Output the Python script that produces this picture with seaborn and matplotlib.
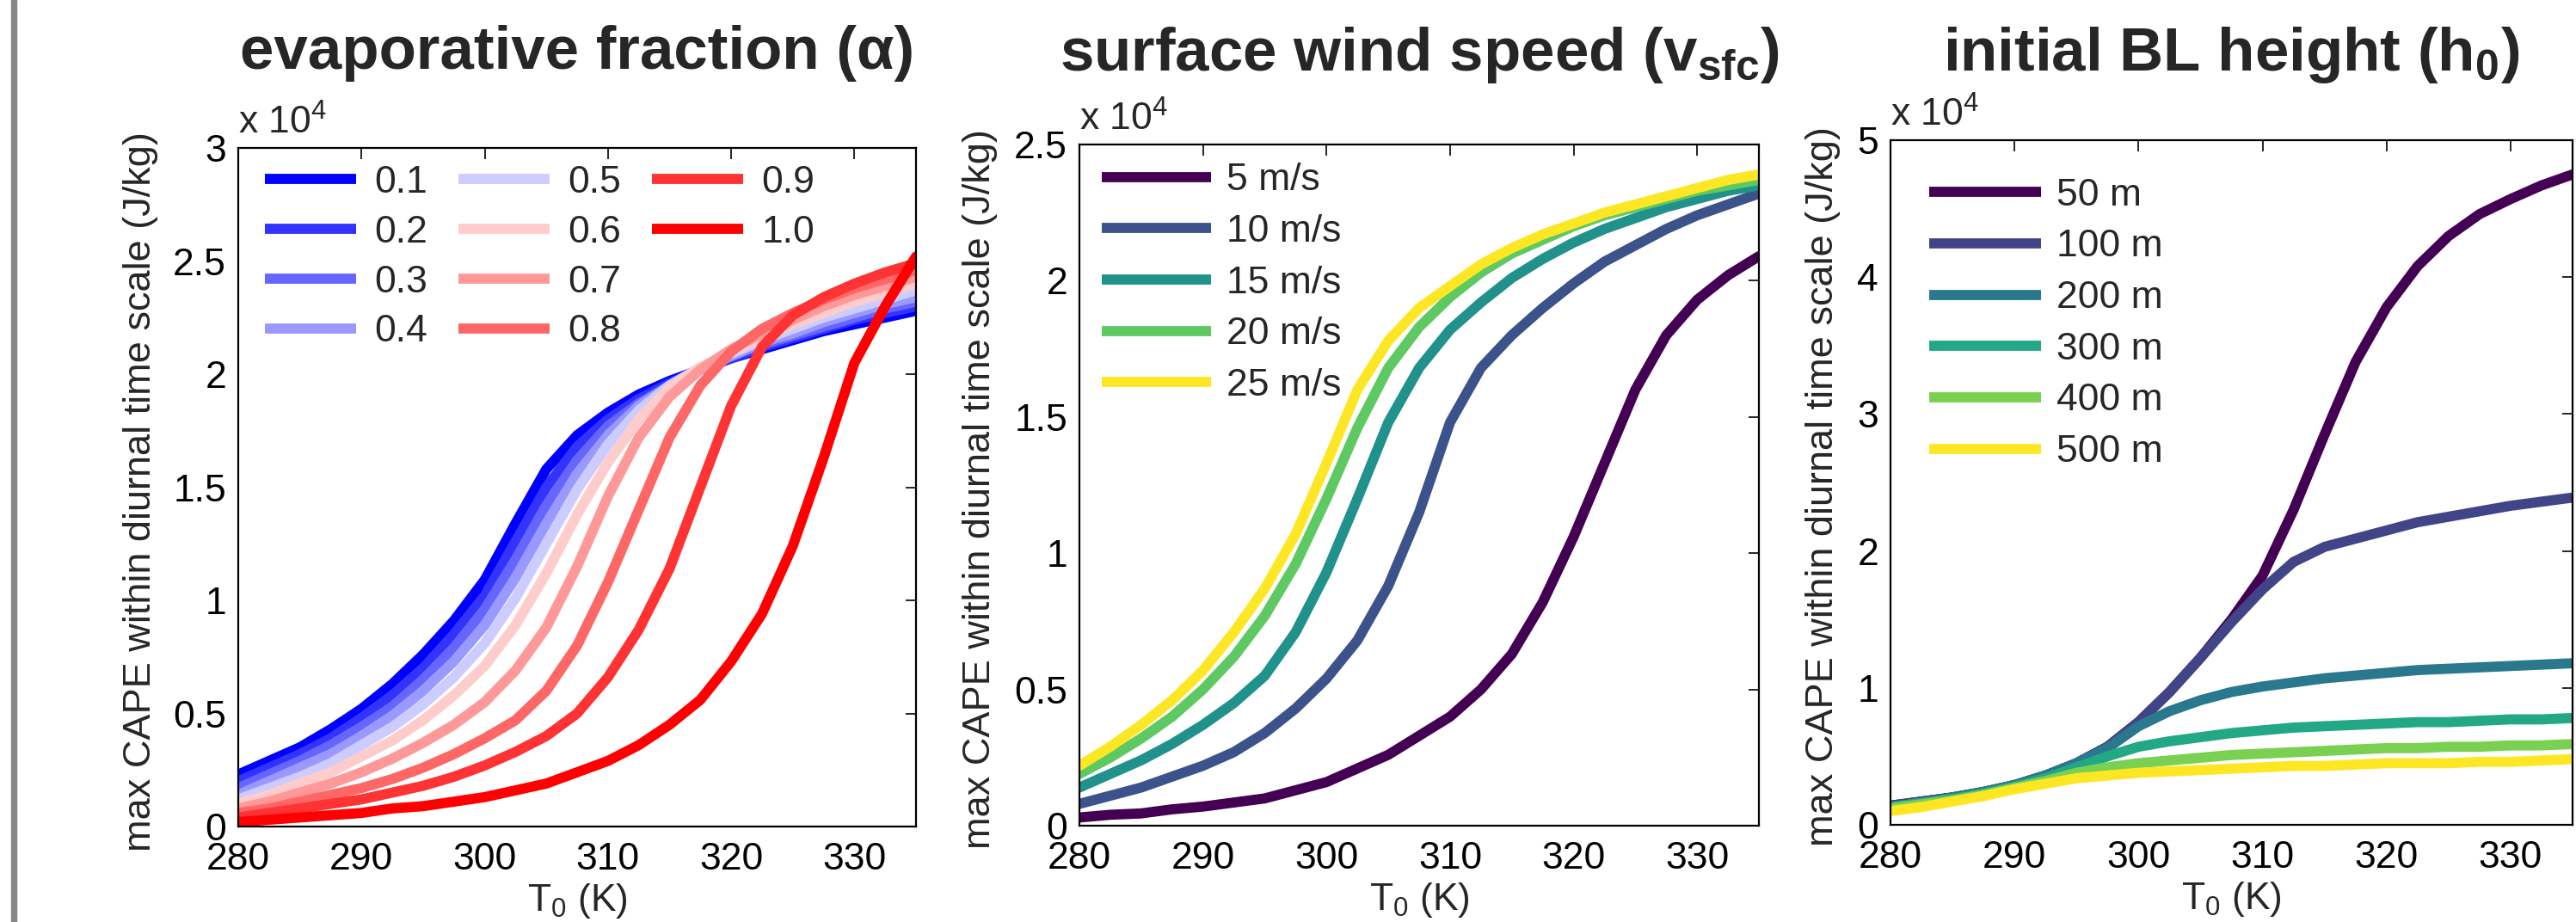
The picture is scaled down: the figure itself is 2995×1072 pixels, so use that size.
import matplotlib
matplotlib.use("Agg")
import matplotlib.pyplot as plt
import matplotlib.transforms as mtransforms
from matplotlib.lines import Line2D
from matplotlib.patches import Rectangle
from matplotlib.ticker import FuncFormatter
import pandas as pd
import seaborn as sns

# surface temperature T0 (K)
T0 = [280, 282.5, 285, 287.5, 290, 292.5, 295, 297.5, 300, 302.5, 305, 307.5,
      310, 312.5, 315, 317.5, 320, 322.5, 325, 327.5, 330, 332.5, 335]

# max CAPE within diurnal time scale, units of 1e4 J/kg
# panel 1: evaporative fraction
alpha_01 = [0.23, 0.29, 0.35, 0.43, 0.52, 0.63, 0.76, 0.91, 1.09, 1.34, 1.58, 1.73, 1.83, 1.91, 1.97, 2.02, 2.07, 2.11, 2.15, 2.19, 2.22, 2.25, 2.28]
alpha_02 = [0.20, 0.26, 0.32, 0.39, 0.48, 0.58, 0.70, 0.85, 1.02, 1.26, 1.50, 1.68, 1.80, 1.89, 1.96, 2.02, 2.07, 2.12, 2.16, 2.20, 2.24, 2.27, 2.30]
alpha_03 = [0.17, 0.23, 0.29, 0.36, 0.44, 0.53, 0.65, 0.79, 0.96, 1.18, 1.42, 1.62, 1.77, 1.87, 1.95, 2.02, 2.08, 2.13, 2.17, 2.21, 2.25, 2.29, 2.32]
alpha_04 = [0.14, 0.20, 0.26, 0.32, 0.40, 0.49, 0.60, 0.73, 0.89, 1.10, 1.34, 1.56, 1.73, 1.86, 1.95, 2.02, 2.08, 2.14, 2.18, 2.23, 2.27, 2.31, 2.34]
alpha_05 = [0.12, 0.17, 0.22, 0.28, 0.36, 0.44, 0.54, 0.66, 0.81, 1.01, 1.25, 1.49, 1.69, 1.84, 1.95, 2.03, 2.09, 2.15, 2.20, 2.25, 2.29, 2.33, 2.37]
alpha_06 = [0.10, 0.14, 0.19, 0.24, 0.31, 0.38, 0.47, 0.58, 0.71, 0.89, 1.12, 1.38, 1.61, 1.80, 1.94, 2.03, 2.10, 2.16, 2.22, 2.27, 2.32, 2.36, 2.40]
alpha_07 = [0.08, 0.11, 0.15, 0.19, 0.24, 0.30, 0.37, 0.45, 0.55, 0.69, 0.88, 1.15, 1.46, 1.72, 1.90, 2.02, 2.11, 2.18, 2.24, 2.30, 2.35, 2.39, 2.43]
alpha_08 = [0.06, 0.08, 0.11, 0.14, 0.17, 0.21, 0.26, 0.32, 0.39, 0.47, 0.60, 0.80, 1.08, 1.40, 1.72, 1.95, 2.10, 2.20, 2.27, 2.33, 2.38, 2.42, 2.46]
alpha_09 = [0.04, 0.06, 0.08, 0.10, 0.12, 0.15, 0.18, 0.22, 0.27, 0.33, 0.40, 0.50, 0.66, 0.87, 1.14, 1.50, 1.86, 2.12, 2.26, 2.34, 2.40, 2.45, 2.49]
alpha_10 = [0.02, 0.03, 0.04, 0.05, 0.06, 0.08, 0.09, 0.11, 0.13, 0.16, 0.19, 0.24, 0.29, 0.36, 0.45, 0.56, 0.73, 0.94, 1.24, 1.63, 2.05, 2.30, 2.52]
alpha_labels = ['0.1', '0.2', '0.3', '0.4', '0.5', '0.6', '0.7', '0.8', '0.9', '1.0']
alpha_colors = ['#0000ff', '#3333ff', '#6666ff', '#9999ff', '#ccccff',
                '#ffcccc', '#ff9999', '#ff6666', '#ff3333', '#ff0000']

# panel 2: surface wind speed
wind_05 = [0.03, 0.04, 0.045, 0.06, 0.07, 0.085, 0.10, 0.13, 0.16, 0.21, 0.26, 0.33, 0.40, 0.50, 0.63, 0.82, 1.06, 1.33, 1.60, 1.80, 1.93, 2.02, 2.09]
wind_10 = [0.08, 0.11, 0.14, 0.18, 0.22, 0.27, 0.34, 0.43, 0.54, 0.68, 0.88, 1.15, 1.48, 1.68, 1.80, 1.90, 1.99, 2.07, 2.13, 2.19, 2.24, 2.28, 2.32]
wind_15 = [0.14, 0.19, 0.24, 0.30, 0.37, 0.45, 0.55, 0.71, 0.93, 1.20, 1.48, 1.68, 1.82, 1.92, 2.01, 2.08, 2.14, 2.19, 2.23, 2.27, 2.30, 2.33, 2.35]
wind_20 = [0.19, 0.25, 0.32, 0.40, 0.50, 0.62, 0.77, 0.96, 1.20, 1.46, 1.68, 1.83, 1.94, 2.03, 2.10, 2.15, 2.20, 2.24, 2.27, 2.30, 2.33, 2.35, 2.37]
wind_25 = [0.22, 0.29, 0.37, 0.46, 0.57, 0.71, 0.87, 1.07, 1.33, 1.60, 1.78, 1.90, 1.98, 2.06, 2.12, 2.17, 2.21, 2.25, 2.28, 2.31, 2.34, 2.37, 2.39]
wind_labels = ['5 m/s', '10 m/s', '15 m/s', '20 m/s', '25 m/s']
wind_colors = ['#440154', '#3b528b', '#21918c', '#5ec962', '#fde725']

# panel 3: initial BL height
h_050 = [0.14, 0.17, 0.20, 0.24, 0.29, 0.36, 0.45, 0.57, 0.75, 0.97, 1.22, 1.50, 1.82, 2.30, 2.85, 3.38, 3.78, 4.08, 4.30, 4.46, 4.57, 4.67, 4.75]
h_100 = [0.14, 0.17, 0.20, 0.24, 0.29, 0.36, 0.45, 0.57, 0.75, 0.97, 1.22, 1.48, 1.72, 1.92, 2.03, 2.09, 2.15, 2.21, 2.25, 2.29, 2.33, 2.36, 2.39]
h_200 = [0.13, 0.16, 0.20, 0.24, 0.29, 0.36, 0.45, 0.56, 0.72, 0.83, 0.91, 0.97, 1.01, 1.04, 1.07, 1.09, 1.11, 1.13, 1.14, 1.15, 1.16, 1.17, 1.18]
h_300 = [0.13, 0.16, 0.19, 0.23, 0.28, 0.34, 0.42, 0.50, 0.57, 0.61, 0.64, 0.67, 0.69, 0.71, 0.72, 0.73, 0.74, 0.75, 0.75, 0.76, 0.77, 0.77, 0.78]
h_400 = [0.12, 0.15, 0.18, 0.22, 0.27, 0.32, 0.38, 0.42, 0.45, 0.47, 0.49, 0.51, 0.52, 0.53, 0.54, 0.55, 0.56, 0.56, 0.57, 0.57, 0.58, 0.58, 0.59]
h_500 = [0.10, 0.13, 0.17, 0.21, 0.26, 0.30, 0.34, 0.36, 0.38, 0.39, 0.40, 0.41, 0.42, 0.43, 0.43, 0.44, 0.45, 0.45, 0.45, 0.46, 0.46, 0.47, 0.48]
h_labels = ['50 m', '100 m', '200 m', '300 m', '400 m', '500 m']
h_colors = ['#440154', '#414487', '#2a788e', '#22a884', '#7ad151', '#fde725']

sns.set_theme(style='white')
plt.rcParams['font.family'] = ['Liberation Sans', 'DejaVu Sans']
plt.rcParams['mathtext.fontset'] = 'custom'
plt.rcParams['mathtext.rm'] = 'Liberation Sans'
plt.rcParams['mathtext.it'] = 'Liberation Sans:italic'
plt.rcParams['mathtext.bf'] = 'Liberation Sans:bold'
plt.rcParams['mathtext.default'] = 'regular'

W, H = 2995, 1072
FS = 32
LW = 8.5

fig = plt.figure(figsize=(W / 100, H / 100), dpi=100)
fig.patch.set_facecolor('white')
fig.patches.append(Rectangle((13 / W, 0), 6 / W, 1, transform=fig.transFigure,
                             color='#878787', zorder=0))


def long_frame(series, labels):
    rows = []
    for vals, lab in zip(series, labels):
        for t, v in zip(T0, vals):
            rows.append({'T0': t, 'cape': v, 'case': lab})
    return pd.DataFrame(rows)


def make_panel(box, series, labels, colors, ymax, ystep, title, ylab_x,
               title_base, leg_anchor, leg_kw):
    left, top, right, bottom = box
    ax = fig.add_axes([left / W, (H - bottom) / H, (right - left) / W, (bottom - top) / H])
    df = long_frame(series, labels)
    sns.lineplot(data=df, x='T0', y='cape', hue='case', hue_order=labels,
                 palette=dict(zip(labels, colors)), linewidth=LW, sort=False,
                 errorbar=None, legend=False, ax=ax)
    ax.set_xlim(280, 335)
    ax.set_ylim(0, ymax)
    ax.set_xticks([280, 290, 300, 310, 320, 330])
    yt = [i * ystep for i in range(int(round(ymax / ystep)) + 1)]
    ax.set_yticks(yt)
    ax.yaxis.set_major_formatter(FuncFormatter(lambda v, p: '%g' % v))
    ax.tick_params(direction='in', length=9, width=1.2, labelsize=FS,
                   top=True, right=True, pad=10, colors='black')
    ax.tick_params(axis='x', pad=13)
    for s in ax.spines.values():
        s.set_linewidth(1.6)
        s.set_color('black')
    ax.set_xlabel('T$_0$ (K)', fontsize=FS)
    ax.xaxis.set_label_coords(0.5, -64 / (bottom - top))
    ax.set_ylabel('max CAPE within diurnal time scale (J/kg)', fontsize=32.5)
    ax.yaxis.set_label_coords(ylab_x, 0.494)

    # scale factor text
    tr = mtransforms.offset_copy(ax.transAxes, fig=fig, x=0, y=16, units='dots')
    ax.text(0, 1, 'x 10$^{4}$', transform=tr, fontsize=FS, ha='left', va='baseline')

    ax.text(0.5, 1 + (top - title_base) / (bottom - top), title, transform=ax.transAxes,
            ha='center', va='baseline', fontsize=51, fontweight='bold')

    handles = [Line2D([], [], color=c, lw=LW, solid_capstyle='butt') for c in colors]
    labs = list(labels)
    if leg_kw.get('ncol', 1) == 3:
        handles += [Line2D([], [], color='none')] * 2
        labs += [' ', ' ']
    ax.legend(handles, labs, loc='upper left', bbox_to_anchor=leg_anchor,
              frameon=False, fontsize=FS, borderaxespad=0, borderpad=0, **leg_kw)
    return ax


make_panel((277, 172, 1065, 961), [alpha_01, alpha_02, alpha_03, alpha_04, alpha_05,
                                   alpha_06, alpha_07, alpha_08, alpha_09, alpha_10],
           alpha_labels, alpha_colors, 3, 0.5, 'evaporative fraction (α)', -0.118, 80,
           (0.039, 0.975), dict(ncol=3, handlelength=2.4, handletextpad=0.47,
                                columnspacing=0.8, labelspacing=0.38))

make_panel((1255, 168, 2045, 960), [wind_05, wind_10, wind_15, wind_20, wind_25],
           wind_labels, wind_colors, 2.5, 0.5,
           'surface wind speed (v$_{\\mathbf{sfc}}$)', -0.120, 82,
           (0.033, 0.973), dict(ncol=1, handlelength=2.86, handletextpad=0.4,
                                labelspacing=0.42))

make_panel((2198, 163, 2991, 959), [h_050, h_100, h_200, h_300, h_400, h_500],
           h_labels, h_colors, 5, 1, 'initial BL height (h$_{\\mathbf{0}}$)', -0.073, 82,
           (0.057, 0.945), dict(ncol=1, handlelength=2.93, handletextpad=0.4,
                                labelspacing=0.42))

fig.savefig('out.png', dpi=100)
